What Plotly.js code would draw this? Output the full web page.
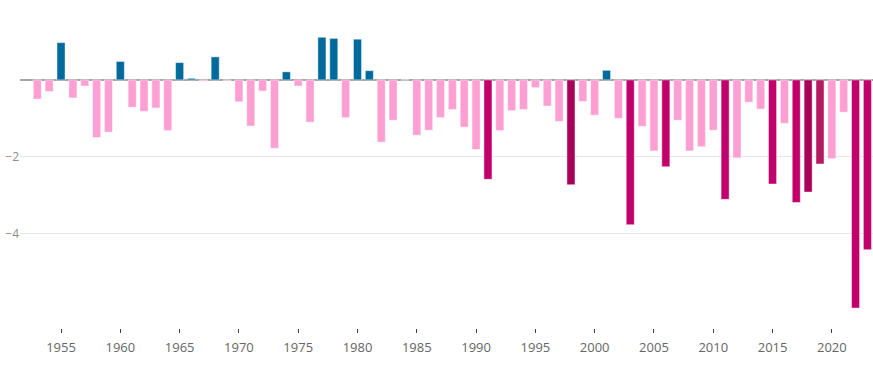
<!DOCTYPE html>
<html>
<head>
<meta charset="utf-8">
<script src="https://cdn.plot.ly/plotly-3.0.1.min.js"></script>
<style>
  html, body { margin: 0; padding: 0; background: #fff; }
  #chart { width: 873px; height: 367px; }
</style>
</head>
<body>
<div id="chart"></div>
<script>
// Years
const years = [];
for (let y = 1953; y <= 2023; y++) years.push(y);

// Anomaly values (one per year, 1953–2023)
const values = [
  -0.50, -0.30, 0.97, -0.47, -0.16, -1.50, -1.36, 0.48, -0.71, -0.82,   // 1953-1962
  -0.73, -1.32, 0.45, 0.04, -0.03, 0.60, -0.02, -0.57, -1.20, -0.29,    // 1963-1972
  -1.78, 0.21, -0.16, -1.10, 1.11, 1.08, -0.98, 1.06, 0.24, -1.62,      // 1973-1982
  -1.05, 0.00, -1.44, -1.31, -0.98, -0.77, -1.23, -1.81, -2.59, -1.32,  // 1983-1992
  -0.80, -0.77, -0.20, -0.68, -1.08, -2.73, -0.56, -0.92, 0.25, -1.00,  // 1993-2002
  -3.77, -1.21, -1.85, -2.26, -1.05, -1.85, -1.74, -1.31, -3.11, -2.03, // 2003-2012
  -0.58, -0.76, -2.71, -1.13, -3.19, -2.92, -2.19, -2.05, -0.84, -5.94, // 2013-2022
  -4.42                                                                 // 2023
];

// Category of each bar: 'pos' positive, 'neg' ordinary negative,
// 'ext' extreme negative, 'ext2' darker extreme, 'ext3' muted extreme
const classes = {
  1991: 'ext', 1998: 'ext2', 2003: 'ext', 2006: 'ext', 2011: 'ext',
  2015: 'ext', 2017: 'ext', 2018: 'ext2', 2019: 'ext3', 2022: 'ext', 2023: 'ext'
};
const palette = {
  pos: '#006a9c',
  neg: '#fd9fd3',
  ext: '#c2006b',
  ext2: '#a9005a',
  ext3: '#b41c62'
};
const colors = years.map((y, i) => {
  if (classes[y]) return palette[classes[y]];
  return values[i] >= 0 ? palette.pos : palette.neg;
});

const yTickVals = [-4, -2];
const xTickVals = [1955, 1960, 1965, 1970, 1975, 1980, 1985, 1990, 1995, 2000, 2005, 2010, 2015, 2020];

const trace = {
  type: 'bar',
  x: years,
  y: values,
  width: 0.68,
  marker: {
    color: colors,
    line: { color: 'rgba(255,255,255,0.45)', width: 1 }
  },
  hoverinfo: 'x+y'
};

const layout = {
  width: 873,
  height: 367,
  margin: { l: 20, r: 0, t: 10, b: 39 },
  paper_bgcolor: '#ffffff',
  plot_bgcolor: '#ffffff',
  font: { family: '"Open Sans", sans-serif', size: 13, color: '#666' },
  showlegend: false,
  xaxis: {
    range: [1951.54, 2023.47],
    tickvals: xTickVals,
    ticktext: xTickVals.map(String),
    ticks: 'outside',
    ticklen: 4,
    tickwidth: 1,
    tickcolor: '#444',
    ticklabelstandoff: 3,
    showgrid: false,
    zeroline: false,
    showline: false,
    tickfont: { family: '"Open Sans", sans-serif', size: 13, color: '#666' }
  },
  yaxis: {
    range: [-6.46, 1.82],
    tickvals: yTickVals,
    ticks: '',
    showgrid: true,
    gridcolor: '#e6e6e6',
    gridwidth: 1,
    zeroline: true,
    zerolinecolor: '#a6a6a6',
    zerolinewidth: 1.5,
    showline: false,
    tickfont: { family: '"Open Sans", sans-serif', size: 12, color: '#8c8c8c' }
  }
};

Plotly.newPlot('chart', [trace], layout, { displayModeBar: false, responsive: false });
</script>
</body>
</html>
